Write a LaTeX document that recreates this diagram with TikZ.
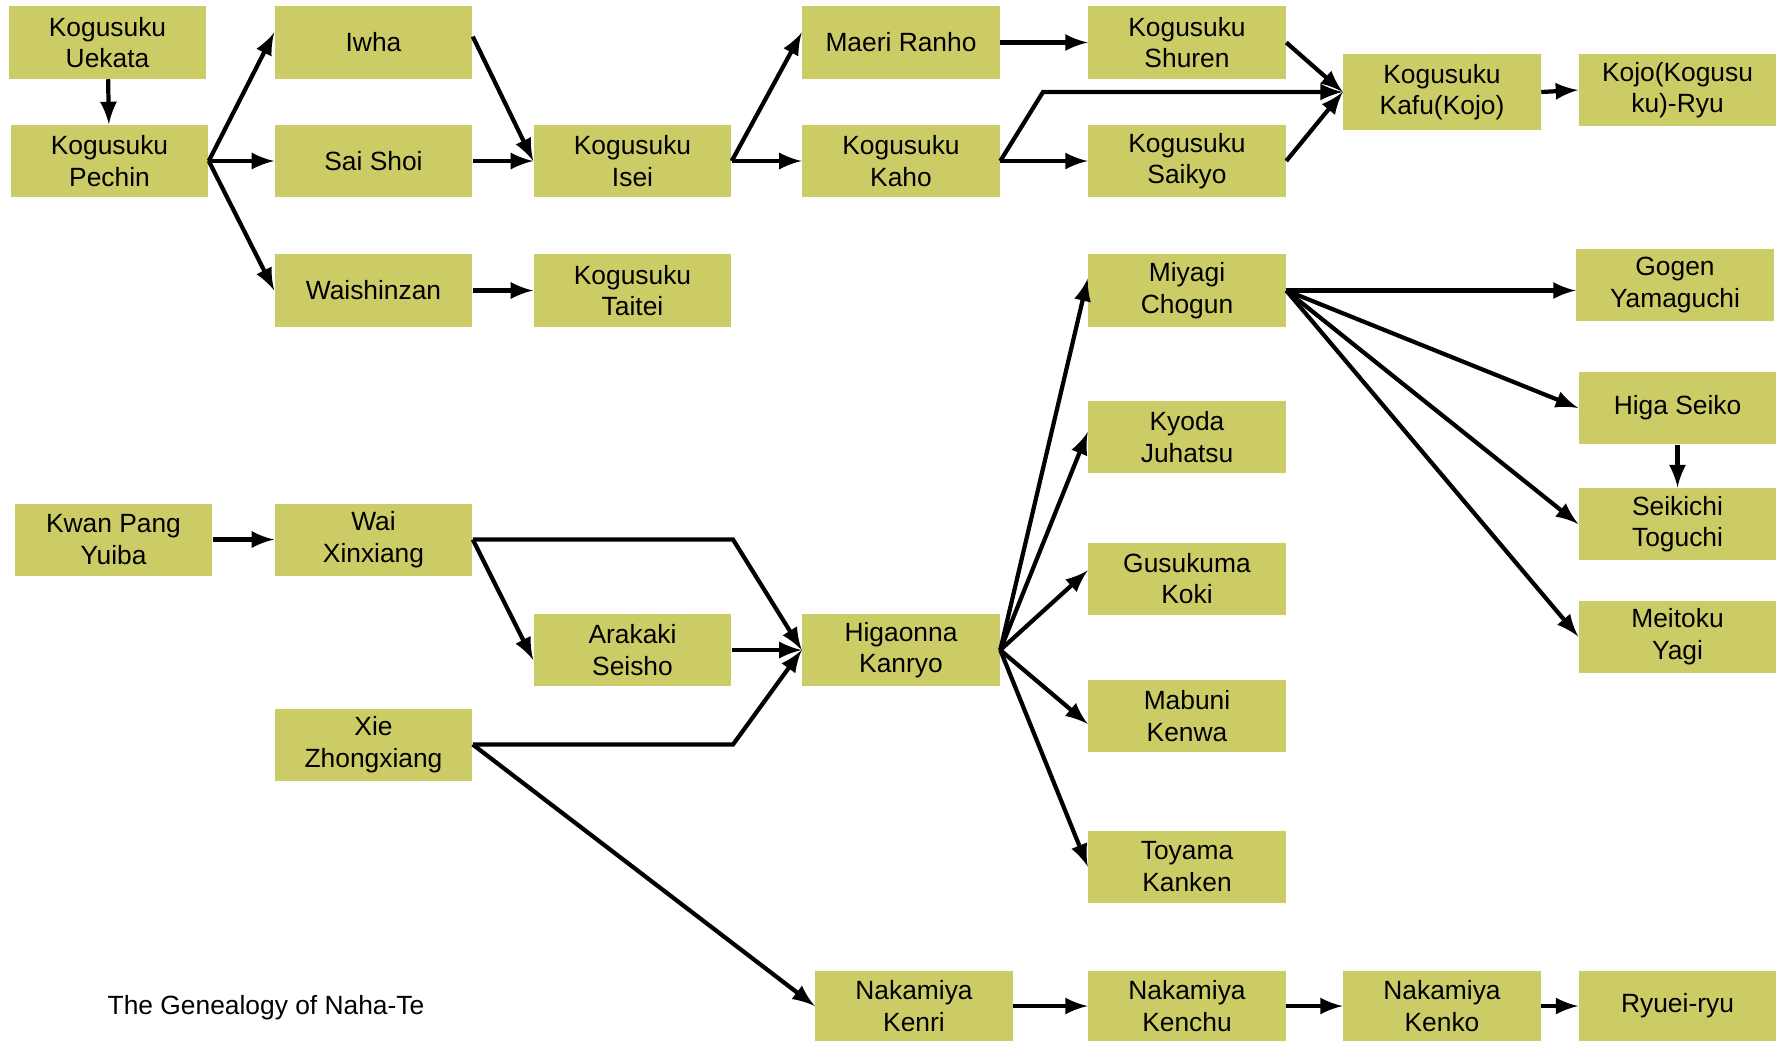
\documentclass[tikz,border=0pt]{standalone}
\usepackage{fontspec}
\setmainfont{Liberation Sans}
\usetikzlibrary{shapes, positioning}

\definecolor{boxolive}{RGB}{204,204,102}

\tikzset{
    person/.style={rectangle, fill=boxolive, inner sep=0pt,
        minimum width=1.97cm, minimum height=0.72cm, align=center,
        font=\fontsize{7.5}{9}\selectfont},
    line/.style={very thick, ->, >=latex}
}

\begin{document}
\begin{tikzpicture}[x=0.01cm, y=-0.01cm]

\useasboundingbox (0,0) rectangle (1776,1041);

%% Kogusuku line
\node[person] (uekata) at (107.5,42.5) {Kogusuku\\Uekata};
\node[person] (pechin) at (109.5,161) {Kogusuku\\Pechin};
\node[person] (iwha) at (373.5,42.5) {Iwha};
\node[person] (saishoi) at (373.5,161) {Sai Shoi};
\node[person] (waishinzan) at (373.5,290.5) {Waishinzan};
\node[person] (isei) at (632.5,161) {Kogusuku\\Isei};
\node[person] (taitei) at (632.5,290.5) {Kogusuku\\Taitei};
\node[person] (maeri) at (901,42.5) {Maeri Ranho};
\node[person] (kaho) at (901,161) {Kogusuku\\Kaho};
\node[person] (shuren) at (1187,42.5) {Kogusuku\\Shuren};
\node[person] (saikyo) at (1187,161) {Kogusuku\\Saikyo};
\node[person, minimum height=0.76cm] (kafu) at (1442,92) {Kogusuku\\Kafu(Kojo)};
\node[person] (kojoryu) at (1677.5,90) {Kojo(Kogusu\\ku)-Ryu};

%% Higaonna line
\node[person] (kwan) at (113.5,539.5) {Kwan Pang\\Yuiba};
\node[person] (wai) at (373.5,539.5) {Wai\\Xinxiang};
\node[person] (arakaki) at (632.5,650) {Arakaki\\Seisho};
\node[person] (xie) at (373.5,744.5) {Xie\\Zhongxiang};
\node[person] (higaonna) at (901,650) {Higaonna\\Kanryo};
\node[person] (miyagi) at (1187,290.5) {Miyagi\\Chogun};
\node[person] (kyoda) at (1187,437) {Kyoda\\Juhatsu};
\node[person] (gusukuma) at (1187,578.5) {Gusukuma\\Koki};
\node[person] (mabuni) at (1187,716) {Mabuni\\Kenwa};
\node[person] (toyama) at (1187,866.5) {Toyama\\Kanken};
\node[person] (gogen) at (1675,285) {Gogen\\Yamaguchi};
\node[person] (higa) at (1677.5,408) {Higa Seiko};
\node[person] (toguchi) at (1677.5,524) {Seikichi\\Toguchi};
\node[person] (yagi) at (1677.5,636.5) {Meitoku\\Yagi};

%% Nakamiya line
\node[person, minimum height=0.70cm] (kenri) at (914,1006) {Nakamiya\\Kenri};
\node[person, minimum height=0.70cm] (kenchu) at (1187,1006) {Nakamiya\\Kenchu};
\node[person, minimum height=0.70cm] (kenko) at (1442,1006) {Nakamiya\\Kenko};
\node[person, minimum height=0.70cm] (ryuei) at (1677.5,1006) {Ryuei-ryu};

\node[font=\fontsize{7.5}{9}\selectfont] (title) at (266,1008) {The Genealogy of Naha-Te};

% bends
\coordinate (kahobend) at (1043,92);
\coordinate (waibend) at (733,539.5);
\coordinate (xiebend) at (733,744.5);

% top arrows
\draw[line] (uekata) -- (pechin);
\draw[line] (pechin.east) -- ([yshift=0.1cm]iwha.west);
\draw[line] (pechin.east) -- (saishoi.west);
\draw[line] (pechin.east) -- (waishinzan.west);
\draw[line] ([yshift=0.06cm]iwha.east) -- (isei.west);
\draw[line] (saishoi.east) -- (isei.west);
\draw[line] (waishinzan.east) -- (taitei.west);
\draw[line] (isei.east) -- ([yshift=0.1cm]maeri.west);
\draw[line] (isei.east) -- (kaho.west);
\draw[line] (maeri.east) -- (shuren.west);
\draw[line] (kaho.east) -- (saikyo.west);
\draw[line] (kaho.east) -- (kahobend) -- (kafu.west);
\draw[line] (shuren.east) -- (kafu.west);
\draw[line] (saikyo.east) -- (kafu.west);
\draw[line] (kafu.east) -- (kojoryu.west);

% lower arrows
\draw[line] (kwan.east) -- (wai.west);
\draw[line] (wai.east) -- ([yshift=-0.1cm]arakaki.west);
\draw[line] (wai.east) -- (waibend) -- (higaonna.west);
\draw[line] (arakaki.east) -- (higaonna.west);
\draw[line] (xie.east) -- (xiebend) -- (higaonna.west);
\draw[line] (xie.east) -- (kenri.west);
\draw[line] (higaonna.east) -- ([yshift=0.12cm]miyagi.west);
\draw[line] (higaonna.east) -- ([yshift=0.05cm]kyoda.west);
\draw[line] (higaonna.east) -- ([yshift=0.08cm]gusukuma.west);
\draw[line] (higaonna.east) -- ([yshift=-0.08cm]mabuni.west);
\draw[line] (higaonna.east) -- (toyama.west);
\draw[line] (miyagi.east) -- (miyagi.east -| gogen.west);
\draw[line] (miyagi.east) -- (higa.west);
\draw[line] (miyagi.east) -- (toguchi.west);
\draw[line] (miyagi.east) -- (yagi.west);
\draw[line] (higa) -- (toguchi);
\draw[line] (kenri) -- (kenchu);
\draw[line] (kenchu) -- (kenko);
\draw[line] (kenko) -- (ryuei);

\end{tikzpicture}
\end{document}
